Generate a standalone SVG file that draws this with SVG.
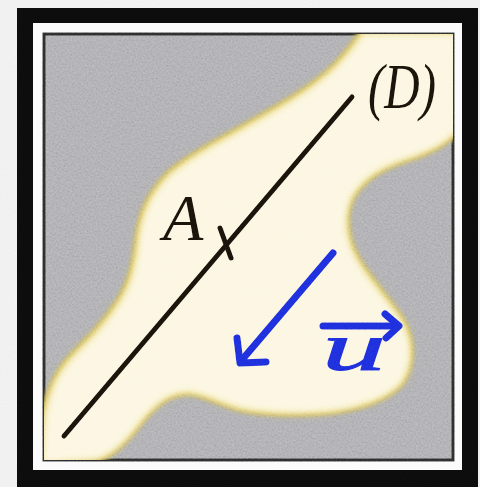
<svg xmlns="http://www.w3.org/2000/svg" width="480" height="487" viewBox="0 0 480 487">
  <defs>
    <style>
      .ink { fill: none; stroke: #17120a; stroke-width: 5; stroke-linecap: round; stroke-linejoin: round; }
      .blue { fill: none; stroke: #1c2bd9; stroke-width: 7; stroke-linecap: round; stroke-linejoin: round; }
      .hand { font-family: "Liberation Serif", "DejaVu Serif", serif; font-style: italic; }
    </style>
    <filter id="tex" x="0" y="0" width="100%" height="100%">
      <feTurbulence type="fractalNoise" baseFrequency="0.55" numOctaves="2" seed="7"/>
      <feColorMatrix type="matrix" values="1 0 0 0 0  1 0 0 0 0  1 0 0 0 0  0 0 0 0 1"/>
    </filter>
    <filter id="glow" x="-10%" y="-10%" width="120%" height="120%">
      <feGaussianBlur stdDeviation="2"/>
    </filter>
    <filter id="soft" x="-10%" y="-10%" width="120%" height="120%">
      <feGaussianBlur stdDeviation="3"/>
    </filter>
    <clipPath id="inner">
      <rect x="44" y="34" width="409" height="426"/>
    </clipPath>
    <path id="blobShape" d="M363,34 L456,34 L456,130 C445,142 430,150 405,158 C380,166 360,178 350,198 C342,215 344,238 355,258 C366,278 385,298 400,320 C412,340 412,365 400,382 C385,398 360,406 330,410 C300,413 270,412 245,408 C225,404 210,394 190,391 C170,390 155,402 140,420 C125,440 110,455 95,458 L42,462 L44,430 C46,400 55,375 75,355 C90,340 105,325 118,305 C132,285 136,265 139,240 C142,215 150,195 170,175 C190,158 215,145 245,128 C280,108 310,92 335,68 C348,55 356,44 363,34 Z"/>
  </defs>

  <rect id="page" x="0" y="0" width="480" height="487" fill="#efefef"/>

  <g id="frame">
    <rect x="17" y="8" width="461" height="485" fill="#0b0b0b"/>
    <rect x="33" y="23" width="429" height="447" fill="#fbfbfb"/>
    <rect x="44" y="34" width="409" height="426" fill="#a9a9ad" stroke="#2a2a2a" stroke-width="3"/>
  </g>

  <g id="region" clip-path="url(#inner)">
    <use href="#blobShape" fill="#c9b040" stroke="#ccb440" stroke-width="10" filter="url(#glow)"/>
    <use href="#blobShape" fill="#ecdc84" stroke="#ecdc84" stroke-width="3" filter="url(#glow)"/>
    <use href="#blobShape" fill="#fcf6df" stroke="#fcf6df" stroke-width="0" filter="url(#soft)" transform="translate(0.5,0.5)"/>
  </g>

  <g id="connectors">
    <line id="lineD" class="ink" x1="64" y1="436" x2="352" y2="97"/>
    <g id="vectorArrow">
      <line class="blue" x1="333" y1="253" x2="241" y2="361"/>
      <polyline class="blue" points="237,338 240,363 266,362"/>
    </g>
  </g>

  <g id="pointA">
    <line class="ink" x1="220" y1="228" x2="231" y2="258"/>
    <text class="hand" x="163" y="240" font-size="66" fill="#17120a">A</text>
  </g>

  <g id="labelD">
    <text class="hand" x="368" y="108" font-size="64" fill="#17120a" textLength="68" lengthAdjust="spacingAndGlyphs">(D)</text>
  </g>

  <g id="labelU">
    <line class="blue" x1="323" y1="326" x2="398" y2="326" stroke-width="6"/>
    <polyline class="blue" points="385,314 399,326 386,338" stroke-width="5"/>
    <text class="hand" x="322" y="370" font-size="68" fill="#1c2bd9" stroke="#1c2bd9" stroke-width="1" textLength="64" lengthAdjust="spacingAndGlyphs">u</text>
  </g>

  <rect id="texture" x="0" y="0" width="480" height="487" filter="url(#tex)" opacity="0.3" style="mix-blend-mode:overlay"/>
</svg>
